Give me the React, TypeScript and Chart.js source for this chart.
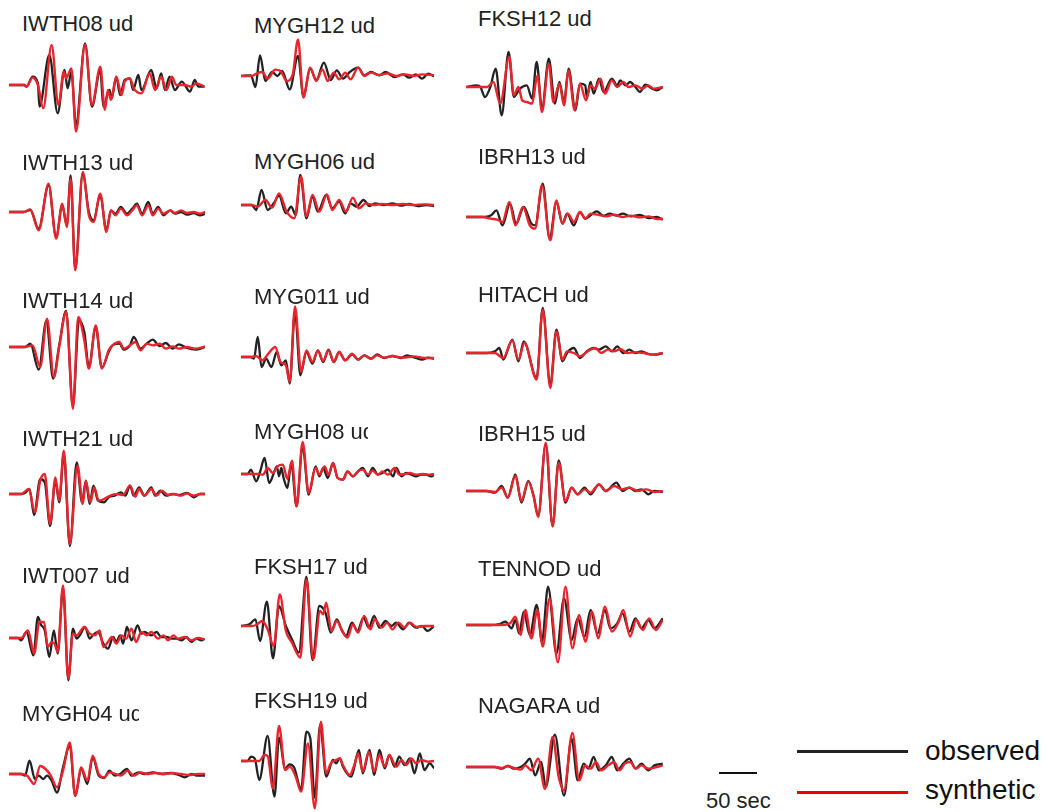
import React, { useEffect, useRef } from 'react';
import { Chart, registerables } from 'chart.js';

Chart.register(...registerables);

type Pt = [number, number];

// ---------------- data: [time (s), normalized amplitude] ----------------
const IWTH08_obs: Pt[] = [[0,0],[20,0],[23,-5],[31,25],[38,5],[40,-65],[53,90],[64,-85],[73,45],[77,-10],[82,40],[88,-120],[100,125],[109,-65],[120,45],[124,-65],[132,-15],[135,-40],[141,25],[146,-30],[152,15],[159,20],[163,-15],[170,30],[174,-15],[187,45],[194,-10],[200,35],[205,-15],[211,25],[218,-15],[227,10],[238,-20],[244,15],[249,-5],[257,-5]];
const IWTH08_syn: Pt[] = [[0,0],[20,0],[23,-5],[31,22],[38,0],[45,-70],[56,120],[65,-60],[72,40],[75,20],[82,50],[88,-140],[100,122],[109,-60],[120,55],[126,-75],[130,-15],[134,-45],[141,25],[148,-30],[152,10],[159,20],[164,-10],[174,-25],[185,35],[192,-15],[200,25],[207,-15],[214,25],[220,0],[231,0],[240,-5],[246,5],[257,-5]];

const IWTH13_obs: Pt[] = [[0,0],[19,0],[28,6],[39,-50],[52,80],[62,-75],[70,20],[76,-40],[81,110],[87,-170],[97,115],[105,0],[111,-25],[120,50],[128,-55],[134,5],[140,-5],[147,15],[155,-5],[162,10],[168,25],[175,-5],[183,30],[189,-5],[196,15],[203,-10],[212,5],[218,-5],[226,0],[234,-8],[243,-3],[251,-10],[258,-5]];
const IWTH13_syn: Pt[] = [[0,0],[19,0],[28,8],[39,-55],[52,85],[62,-80],[70,25],[76,-45],[81,100],[87,-175],[97,120],[105,-10],[111,-30],[120,55],[128,-60],[134,5],[140,-10],[147,10],[155,-10],[162,5],[168,20],[175,-10],[183,20],[189,-10],[196,10],[203,-5],[212,5],[218,-3],[226,5],[234,-3],[243,0],[251,-5],[258,0]];

const IWTH14_obs: Pt[] = [[0,0],[21,0],[28,10],[39,-68],[49,78],[58,-95],[66,5],[75,108],[84,-175],[92,80],[99,45],[105,-60],[114,60],[122,-62],[131,-15],[136,5],[145,10],[151,-8],[159,5],[164,30],[173,-5],[181,10],[189,22],[198,3],[206,12],[215,-5],[223,8],[234,-3],[245,-8],[258,0]];
const IWTH14_syn: Pt[] = [[0,0],[21,0],[31,5],[41,-60],[50,85],[59,-90],[66,0],[75,105],[84,-185],[91,90],[99,20],[105,-65],[114,65],[122,-65],[131,-10],[136,5],[145,15],[151,-5],[159,5],[166,15],[173,-10],[181,10],[189,5],[198,10],[206,-5],[215,2],[223,-5],[234,0],[245,-5],[258,2]];

const IWTH21_obs: Pt[] = [[0,0],[16,0],[21,3],[27,15],[33,-63],[41,45],[47,35],[54,-96],[61,40],[66,-25],[72,120],[80,-156],[89,95],[96,-25],[101,40],[106,-30],[111,25],[117,-20],[125,-25],[131,-10],[139,-5],[147,5],[153,-5],[159,25],[164,-5],[171,20],[178,-5],[187,20],[192,-5],[199,10],[206,-5],[215,0],[223,-3],[234,3],[243,-10],[251,0],[258,0]];
const IWTH21_syn: Pt[] = [[0,0],[16,0],[26,15],[34,-55],[41,40],[47,60],[54,-90],[61,50],[66,-20],[72,130],[80,-150],[90,85],[97,-30],[101,40],[107,-25],[112,20],[118,-20],[125,-15],[133,-5],[142,0],[150,-3],[159,25],[166,-8],[171,15],[178,-5],[187,15],[194,-5],[201,10],[209,-3],[217,0],[226,-5],[234,2],[243,-5],[251,0],[258,0]];

const IWT007_obs: Pt[] = [[0,0],[12,0],[16,-7],[23,18],[32,-52],[38,63],[42,40],[47,23],[53,-57],[59,23],[64,-47],[71,150],[78,-127],[84,28],[89,-2],[93,8],[100,33],[106,-2],[110,8],[117,18],[124,-17],[130,-32],[137,3],[141,-12],[146,8],[150,-17],[155,33],[161,-7],[169,38],[174,13],[178,18],[187,8],[194,18],[200,3],[207,3],[214,-2],[220,-2],[227,-7],[233,3],[240,-12],[246,-2],[253,-7],[257,-2]];
const IWT007_syn: Pt[] = [[0,0],[16,0],[25,23],[33,-47],[40,48],[46,48],[51,-27],[56,-12],[60,-18],[64,-42],[71,158],[78,-122],[84,13],[89,8],[99,33],[106,13],[113,8],[119,23],[124,-27],[130,-12],[135,3],[141,-17],[148,8],[154,-2],[161,28],[167,-12],[174,18],[181,8],[187,18],[196,-2],[203,8],[209,-7],[216,8],[222,-2],[231,3],[240,-7],[249,0],[257,-4]];

const MYGH04_obs: Pt[] = [[0,0],[16,0],[21,-5],[27,40],[34,-15],[39,-5],[45,-15],[50,-5],[56,-20],[63,-56],[71,20],[80,85],[87,-66],[95,15],[103,-30],[110,50],[118,-5],[125,-12],[132,10],[139,-5],[146,0],[155,15],[161,-5],[170,5],[178,0],[189,5],[201,0],[212,3],[223,-3],[231,-10],[240,0],[248,-5],[258,-5]];
const MYGH04_syn: Pt[] = [[0,0],[16,0],[24,-5],[33,-30],[41,24],[48,15],[55,-5],[63,-40],[71,10],[80,94],[87,-65],[95,20],[103,-20],[110,55],[118,0],[125,-10],[132,5],[140,0],[147,-5],[156,10],[164,-5],[173,5],[181,0],[192,3],[203,0],[215,3],[226,0],[237,-3],[248,0],[258,0]];

const MYGH12_obs: Pt[] = [[0,0],[13,2],[19,-33],[25,62],[32,-15],[41,12],[48,0],[54,15],[64,-40],[75,60],[82,-60],[91,22],[99,-12],[109,40],[118,-12],[126,17],[134,-8],[143,12],[154,25],[162,2],[171,12],[182,2],[190,12],[202,-3],[213,5],[221,-5],[230,5],[238,-8],[246,7],[254,-1]];
const MYGH12_syn: Pt[] = [[0,0],[14,0],[21,8],[28,12],[35,-8],[45,19],[52,15],[60,-15],[68,5],[75,110],[82,-65],[91,25],[99,-15],[107,20],[114,-15],[122,10],[129,-10],[137,10],[144,-10],[154,25],[162,0],[171,10],[182,3],[193,8],[204,0],[216,5],[227,0],[238,5],[254,2]];

const MYGH06_obs: Pt[] = [[0,0],[14,0],[20,-15],[27,45],[35,-15],[43,5],[50,28],[59,-25],[66,-5],[72,-30],[78,90],[86,-40],[94,25],[101,-20],[112,30],[120,-10],[129,10],[137,-25],[144,5],[152,-5],[161,15],[169,-3],[176,5],[188,0],[199,5],[210,-2],[221,3],[232,-3],[244,0],[254,-3]];
const MYGH06_syn: Pt[] = [[0,0],[14,0],[22,-5],[32,15],[41,-8],[50,35],[60,-20],[70,-40],[79,85],[86,-35],[94,30],[103,-20],[113,32],[120,-15],[129,15],[138,-20],[147,22],[155,-10],[164,5],[174,0],[185,3],[199,0],[213,3],[227,0],[241,2],[254,0]];

const MYG011_obs: Pt[] = [[0,0],[13,0],[17,-5],[22,60],[27,-30],[33,-5],[40,-30],[47,15],[53,-25],[59,-10],[64,-80],[71,135],[78,-55],[86,15],[94,-20],[101,20],[108,-15],[115,22],[122,-15],[129,15],[137,-10],[146,8],[154,-8],[162,5],[171,-5],[179,8],[188,-3],[199,3],[210,-3],[218,5],[230,-3],[238,-8],[246,-2],[254,-5]];
const MYG011_syn: Pt[] = [[0,0],[14,0],[20,3],[28,-10],[36,10],[45,30],[52,-15],[59,-25],[64,-75],[71,152],[79,-45],[86,20],[94,-15],[101,20],[108,-12],[115,20],[122,-15],[129,15],[137,-10],[146,10],[154,-8],[162,5],[171,-5],[179,5],[188,-2],[199,3],[213,-2],[227,2],[241,-3],[254,-3]];

const MYGH08_obs: Pt[] = [[0,0],[9,0],[13,13],[20,-22],[25,6],[31,48],[37,-27],[44,8],[47,23],[50,-7],[53,18],[56,-12],[61,-42],[66,33],[73,-97],[81,85],[89,-62],[98,23],[103,-7],[108,18],[114,-12],[121,33],[127,-12],[134,-17],[140,8],[147,-7],[154,8],[160,18],[167,-7],[173,18],[180,-2],[186,3],[193,13],[200,-7],[204,18],[211,-7],[217,3],[224,-2],[230,-7],[237,-2],[243,-2],[250,-7],[256,0]];
const MYGH08_syn: Pt[] = [[0,0],[24,0],[29,-2],[35,18],[42,3],[48,23],[55,28],[61,-15],[67,40],[73,-97],[81,96],[89,-57],[98,18],[103,-2],[110,23],[115,-2],[121,33],[127,-12],[134,-17],[140,8],[147,-7],[154,8],[160,13],[167,-2],[173,10],[180,-2],[186,8],[193,-2],[202,18],[208,-2],[215,0],[222,3],[230,-2],[239,0],[248,-2],[256,0]];

const FKSH17_obs: Pt[] = [[0,0],[11,5],[19,20],[25,-45],[34,73],[42,-97],[50,60],[59,0],[67,-40],[76,-80],[86,148],[94,-102],[103,60],[111,40],[118,-20],[126,20],[132,-10],[138,-30],[146,10],[153,-15],[161,25],[168,-5],[175,30],[182,-5],[190,15],[198,0],[204,10],[213,-10],[221,10],[230,-5],[238,0],[245,-15],[254,0]];
const FKSH17_syn: Pt[] = [[0,0],[14,0],[20,3],[28,15],[35,-10],[43,-60],[51,95],[59,-15],[67,-50],[78,-95],[86,140],[95,-100],[104,45],[108,35],[112,70],[119,-15],[126,15],[133,-15],[140,-35],[147,5],[154,-20],[162,30],[170,-10],[176,20],[185,-5],[192,10],[199,-10],[207,10],[215,-5],[222,10],[231,-3],[241,0],[254,0]];

const FKSH19_obs: Pt[] = [[0,0],[9,0],[13,13],[18,8],[24,-57],[35,75],[44,-107],[50,70],[58,-22],[64,-10],[70,-20],[79,-85],[86,88],[91,70],[97,-110],[104,110],[112,-47],[121,3],[125,-7],[130,8],[134,-17],[145,-47],[155,33],[160,-37],[169,33],[175,-42],[182,33],[189,-22],[195,18],[202,-17],[208,13],[215,-12],[222,8],[228,-37],[235,23],[241,-27],[248,-7],[254,-22]];
const FKSH19_syn: Pt[] = [[0,0],[24,0],[31,18],[35,15],[42,-82],[50,105],[58,-27],[64,-17],[72,-47],[79,-92],[88,53],[97,-142],[105,118],[112,-37],[118,-7],[125,3],[130,8],[134,-12],[143,-42],[149,-12],[154,23],[160,-32],[168,28],[175,-32],[182,18],[189,-17],[195,18],[204,-17],[211,3],[217,-12],[224,8],[230,-7],[237,3],[246,-2],[254,0]];

const FKSH12_obs: Pt[] = [[0,0],[14,5],[19,0],[25,-30],[32,0],[39,55],[47,-85],[56,105],[63,-30],[71,-5],[80,5],[87,-35],[93,75],[100,-65],[109,85],[117,-50],[123,15],[129,-45],[135,55],[144,-70],[150,10],[157,5],[159,-30],[164,15],[168,-20],[175,25],[181,-15],[192,25],[199,5],[203,20],[210,5],[216,15],[223,0],[229,-15],[236,7],[245,-5],[251,-10],[259,0]];
const FKSH12_syn: Pt[] = [[0,0],[19,0],[28,0],[36,15],[45,-50],[57,90],[63,-25],[69,0],[74,-40],[80,-45],[87,-50],[94,35],[100,-75],[109,70],[115,-45],[123,10],[129,-55],[135,50],[143,-70],[150,10],[158,-40],[164,5],[170,-5],[177,25],[183,-20],[192,20],[199,0],[207,15],[214,0],[223,5],[232,-5],[240,5],[247,-5],[259,0]];

const IBRH13_obs: Pt[] = [[0,0],[21,0],[33,5],[40,20],[48,-25],[58,40],[66,-20],[76,30],[86,-20],[91,-25],[101,100],[110,-65],[119,45],[127,-20],[133,10],[142,-25],[150,15],[157,-5],[172,17],[181,4],[189,10],[198,4],[206,10],[217,2],[229,6],[240,-3],[251,0],[259,-8]];
const IBRH13_syn: Pt[] = [[0,0],[21,0],[33,-5],[41,-8],[48,-15],[57,45],[65,-25],[75,30],[84,-25],[91,-35],[100,95],[111,-70],[119,50],[127,-20],[134,10],[142,-15],[150,15],[157,-5],[164,10],[173,7],[184,2],[195,7],[206,0],[217,4],[229,-1],[240,2],[251,-6],[259,-6]];

const HITACH_obs: Pt[] = [[0,0],[27,0],[38,5],[44,15],[49,-20],[61,40],[69,-25],[76,35],[93,-75],[101,135],[111,-95],[119,70],[127,-25],[133,0],[142,15],[150,-15],[159,5],[168,15],[175,10],[184,20],[192,5],[199,20],[207,0],[215,10],[223,0],[231,5],[240,-3],[251,-5],[259,0]];
const HITACH_syn: Pt[] = [[0,0],[27,0],[38,0],[49,-15],[61,38],[69,-20],[77,30],[93,-80],[101,130],[111,-105],[119,65],[127,-20],[133,5],[142,0],[150,-10],[160,5],[170,15],[178,0],[187,10],[195,5],[203,12],[212,0],[223,2],[234,0],[245,-5],[259,0]];

const IBRH15_obs: Pt[] = [[0,0],[27,0],[38,-5],[47,15],[55,-20],[65,50],[73,-35],[82,30],[89,-15],[95,-75],[105,140],[114,-106],[122,92],[131,-35],[139,10],[147,-10],[156,10],[164,-10],[175,20],[184,0],[198,25],[206,0],[215,10],[223,0],[231,5],[240,-10],[248,0],[259,-3]];
const IBRH15_syn: Pt[] = [[0,0],[27,0],[38,-3],[47,10],[55,-20],[65,45],[73,-30],[82,28],[89,-15],[95,-78],[105,145],[114,-105],[122,85],[131,-30],[139,10],[147,-10],[156,5],[164,-5],[175,20],[184,0],[195,15],[206,5],[215,10],[226,0],[237,5],[248,-3],[259,0]];

const TENNOD_obs: Pt[] = [[0,0],[33,0],[44,3],[52,10],[60,-10],[65,15],[70,-25],[76,40],[84,-30],[93,60],[100,-50],[108,115],[119,-85],[129,80],[139,-45],[147,20],[156,-35],[164,45],[173,-25],[183,45],[190,-10],[199,5],[206,35],[215,-20],[223,20],[231,-10],[240,15],[248,-10],[259,20]];
const TENNOD_syn: Pt[] = [[0,0],[33,0],[47,0],[58,5],[65,25],[72,-30],[78,45],[86,-40],[94,45],[101,-65],[110,80],[121,-112],[131,115],[140,-70],[149,30],[157,-50],[166,40],[174,-40],[183,55],[192,-20],[201,10],[207,45],[216,-35],[224,15],[233,-15],[241,20],[250,-15],[259,15]];

const NAGARA_obs: Pt[] = [[0,0],[38,0],[47,-5],[55,3],[63,-5],[72,0],[78,10],[84,25],[91,-25],[99,15],[105,-60],[117,97],[129,-86],[139,85],[147,-40],[155,10],[161,-5],[168,30],[175,-10],[184,5],[192,30],[199,-10],[207,10],[215,25],[223,-5],[231,10],[240,-10],[248,5],[259,10]];
const NAGARA_syn: Pt[] = [[0,0],[38,0],[47,-3],[55,3],[63,-3],[72,-8],[78,5],[86,-10],[95,25],[104,-66],[114,90],[122,-30],[129,-70],[140,102],[149,-40],[157,5],[164,-5],[171,15],[178,-10],[187,5],[195,15],[202,-10],[209,10],[216,15],[224,-5],[231,5],[240,-5],[251,0],[259,5]];

const columnStations: string[][] = [
  ['IWTH08', 'IWTH13', 'IWTH14', 'IWTH21', 'IWT007', 'MYGH04'],
  ['MYGH12', 'MYGH06', 'MYG011', 'MYGH08', 'FKSH17', 'FKSH19'],
  ['FKSH12', 'IBRH13', 'HITACH', 'IBRH15', 'TENNOD', 'NAGARA'],
];
const columnDuration = [257.6, 253.7, 259.3]; // seconds shown per column
const legendLabels = ['observed', 'synthetic'];
const scaleBarSeconds = 50;

const traces: Record<string, { obs: Pt[]; syn: Pt[] }> = {
  IWTH08: { obs: IWTH08_obs, syn: IWTH08_syn },
  IWTH13: { obs: IWTH13_obs, syn: IWTH13_syn },
  IWTH14: { obs: IWTH14_obs, syn: IWTH14_syn },
  IWTH21: { obs: IWTH21_obs, syn: IWTH21_syn },
  IWT007: { obs: IWT007_obs, syn: IWT007_syn },
  MYGH04: { obs: MYGH04_obs, syn: MYGH04_syn },
  MYGH12: { obs: MYGH12_obs, syn: MYGH12_syn },
  MYGH06: { obs: MYGH06_obs, syn: MYGH06_syn },
  MYG011: { obs: MYG011_obs, syn: MYG011_syn },
  MYGH08: { obs: MYGH08_obs, syn: MYGH08_syn },
  FKSH17: { obs: FKSH17_obs, syn: FKSH17_syn },
  FKSH19: { obs: FKSH19_obs, syn: FKSH19_syn },
  FKSH12: { obs: FKSH12_obs, syn: FKSH12_syn },
  IBRH13: { obs: IBRH13_obs, syn: IBRH13_syn },
  HITACH: { obs: HITACH_obs, syn: HITACH_syn },
  IBRH15: { obs: IBRH15_obs, syn: IBRH15_syn },
  TENNOD: { obs: TENNOD_obs, syn: TENNOD_syn },
  NAGARA: { obs: NAGARA_obs, syn: NAGARA_syn },
};

// ---------------- layout (pixels) ----------------
const PX_PER_SEC = 38 / 50;
const AMP_RANGE = 210;
const CANVAS_H = 140;
const colLeft = [9.4, 241, 465.7];
const labelLeft = [22, 254, 478];
const baselines = [
  [85, 211.7, 346.7, 494, 638.3, 774],
  [75.7, 205, 357.3, 474, 626, 760.7],
  [87.3, 217.3, 353.3, 490.7, 625, 767.3],
];
const labelCenters = [
  [23.3, 162.5, 300.8, 438.3, 575.8, 713.7],
  [26, 162, 297, 431.7, 566.2, 700.7],
  [19, 157, 294.5, 433.3, 568.7, 705.8],
];
const labelClip: Record<string, number> = { MYGH04: 117, MYGH08: 114 };
const OBS_COLOR = '#222222';
const SYN_COLOR = '#e8242c';
const OBS_W = 2.3;
const SYN_W = 2.4;
const FONT = '"Liberation Sans", Arial, Helvetica, sans-serif';

function Trace({ name, col, row }: { name: string; col: number; row: number }) {
  const ref = useRef<HTMLCanvasElement | null>(null);
  const tmax = columnDuration[col];
  const w = Math.round(tmax * PX_PER_SEC);
  useEffect(() => {
    if (!ref.current) return;
    const t = traces[name];
    const chart = new Chart(ref.current, {
      type: 'line',
      data: {
        datasets: [
          {
            label: legendLabels[1],
            data: t.syn.map(([x, y]) => ({ x, y })),
            borderColor: SYN_COLOR,
            borderWidth: SYN_W,
            pointRadius: 0,
            cubicInterpolationMode: 'monotone',
            clip: false as any,
            order: 0,
          },
          {
            label: legendLabels[0],
            data: t.obs.map(([x, y]) => ({ x, y })),
            borderColor: OBS_COLOR,
            borderWidth: OBS_W,
            pointRadius: 0,
            cubicInterpolationMode: 'monotone',
            clip: false as any,
            order: 1,
          },
        ],
      },
      options: {
        animation: false,
        responsive: false,
        events: [],
        layout: { padding: 0 },
        scales: {
          x: { type: 'linear', display: false, min: 0, max: tmax },
          y: { type: 'linear', display: false, min: -AMP_RANGE, max: AMP_RANGE },
        },
        plugins: { legend: { display: false }, tooltip: { enabled: false }, title: { display: false } },
      },
    });
    return () => chart.destroy();
  }, [name, tmax]);
  const base = baselines[col][row];
  const lc = labelCenters[col][row];
  const clip = labelClip[name];
  return (
    <>
      <div
        style={{
          position: 'absolute',
          left: labelLeft[col],
          top: lc - 10.7,
          fontFamily: FONT,
          fontSize: 22,
          lineHeight: '22px',
          color: '#222',
          whiteSpace: 'nowrap',
          overflow: 'hidden',
          width: clip ? clip : undefined,
        }}
      >
        {name} ud
      </div>
      <canvas
        ref={ref}
        width={w}
        height={CANVAS_H}
        style={{ position: 'absolute', left: colLeft[col], top: base - CANVAS_H / 2, width: w, height: CANVAS_H }}
      />
    </>
  );
}

export default function App() {
  return (
    <div style={{ position: 'absolute', left: 0, top: 0, width: 1046, height: 812, background: '#fff', overflow: 'hidden' }}>
      {columnStations.map((list, col) =>
        list.map((name, row) => <Trace key={name} name={name} col={col} row={row} />)
      )}
      {/* scale bar */}
      <div style={{ position: 'absolute', left: 719, top: 772, width: scaleBarSeconds * PX_PER_SEC, height: 2, background: '#111' }} />
      <div style={{ position: 'absolute', left: 706, top: 790.4, fontFamily: FONT, fontSize: 22, lineHeight: '22px', color: '#222', whiteSpace: 'nowrap' }}>
        {scaleBarSeconds} sec
      </div>
      {/* legend */}
      <div style={{ position: 'absolute', left: 797, top: 749.5, width: 111, height: 3, background: '#222' }} />
      <div style={{ position: 'absolute', left: 797, top: 790.5, width: 111, height: 3, background: '#f00000' }} />
      <div style={{ position: 'absolute', left: 925, top: 736.8, fontFamily: FONT, fontSize: 28, lineHeight: '28px', color: '#111', whiteSpace: 'nowrap' }}>
        {legendLabels[0]}
      </div>
      <div style={{ position: 'absolute', left: 925, top: 776.3, fontFamily: FONT, fontSize: 28, lineHeight: '28px', color: '#111', whiteSpace: 'nowrap' }}>
        {legendLabels[1]}
      </div>
    </div>
  );
}
